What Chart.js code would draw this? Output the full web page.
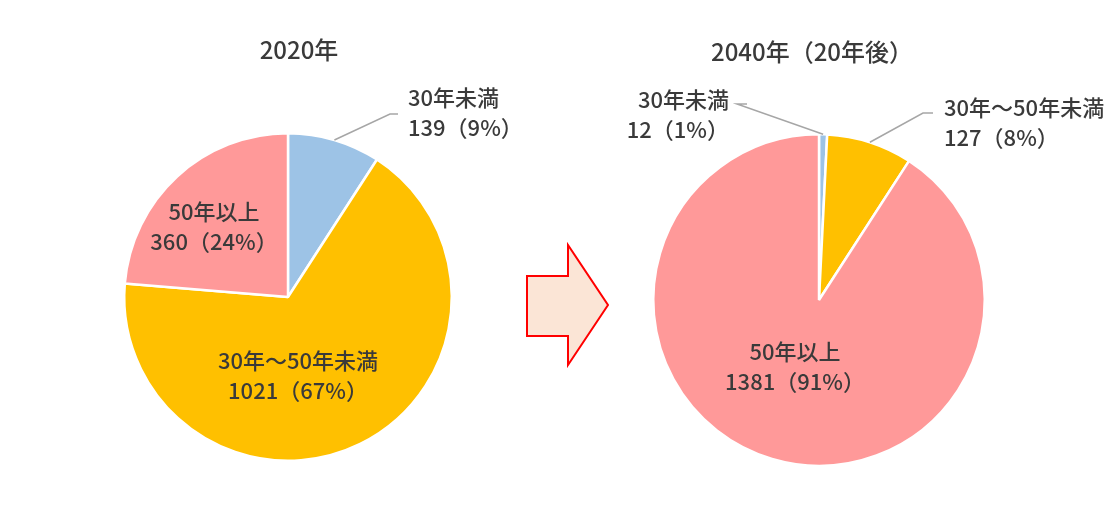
<!DOCTYPE html>
<html lang="ja">
<head>
<meta charset="utf-8">
<script src="https://cdn.jsdelivr.net/npm/chart.js@4/dist/chart.umd.min.js"></script>
<style>
  html, body { margin: 0; padding: 0; background: #fff; }
  #wrap { position: relative; width: 1112px; height: 515px; overflow: hidden; }
  #wrap canvas { position: absolute; top: 0; }
  #arrow { position: absolute; left: 0; top: 0; }
</style>
</head>
<body>
<div id="wrap">
  <canvas id="pie2020" width="556" height="515" style="left:0"></canvas>
  <canvas id="pie2040" width="556" height="515" style="left:556px"></canvas>
  <svg id="arrow" width="1112" height="515">
    <polygon points="527,276 568,276 568,245 608,305 568,365 568,336 527,336"
      fill="#FBE5D6" stroke="#FF0000" stroke-width="2" stroke-linejoin="miter"/>
  </svg>
</div>
<script>
const categories = ["30年未満", "30年～50年未満", "50年以上"];
const values2020 = [139, 1021, 360];
const values2040 = [12, 127, 1381];
const titles = ["2020年", "2040年（20年後）"];
const sliceColors = ["#9DC3E6", "#FFC000", "#FF9999"];

const FONT = '"Noto Sans CJK JP", "Noto Sans", sans-serif';
const TEXT = "#3A3A3A";

// label placement, relative to pie centre (layout only, no data)
const layout2020 = [
  { out: true, dx: 120, dy: -184, align: "left", elbow: [[102, -183], [110, -183]] },
  { dx: 10, dy: 79 },
  { dx: -74, dy: -70 },
];
const layout2040 = [
  { out: true, dx: -90, dy: -185, align: "right", elbow: [[-82, -196], [-72, -196]] },
  { out: true, dx: 125, dy: -177, align: "left", elbow: [[104, -187], [114, -187]] },
  { dx: -24, dy: 67 },
];

//draws title + slice labels with leader lines
const labelPlugin = {
  id: "sliceLabels",
  afterDraw(chart, args, opts) {
    const ctx = chart.ctx;
    const arcs = chart.getDatasetMeta(0).data;
    const values = chart.data.datasets[0].data;
    const total = values.reduce((a, b) => a + b, 0);

    ctx.save();
    ctx.fillStyle = TEXT;
    ctx.textBaseline = "middle";
    ctx.font = "500 24px " + FONT;
    ctx.textAlign = "center";
    ctx.fillText(opts.title, opts.titleX, opts.titleY);

    ctx.font = "500 22px " + FONT;
    arcs.forEach((arc, i) => {
      const lay = opts.layout[i];
      const cx = arc.x, cy = arc.y;
      const pct = Math.round((values[i] / total) * 100);
      const lines = [chart.data.labels[i], values[i] + "（" + pct + "%）"];
      const tx = cx + lay.dx, ty = cy + lay.dy;

      if (lay.out) {
        const mid = (arc.startAngle + arc.endAngle) / 2;
        ctx.beginPath();
        ctx.strokeStyle = "#A6A6A6";
        ctx.lineWidth = 1.5;
        ctx.moveTo(cx + arc.outerRadius * Math.cos(mid), cy + arc.outerRadius * Math.sin(mid));
        lay.elbow.forEach((p) => ctx.lineTo(cx + p[0], cy + p[1]));
        ctx.stroke();
      }
      ctx.textAlign = lay.align || "center";
      ctx.fillStyle = TEXT;
      ctx.fillText(lines[0], tx, ty - 15);
      ctx.fillText(lines[1], tx, ty + 15);
    });
    ctx.restore();
  },
};

function makePie(id, values, pad, layout, title, titleX, titleY) {
  return new Chart(document.getElementById(id), {
    type: "pie",
    data: {
      labels: categories,
      datasets: [
        {
          data: values,
          backgroundColor: sliceColors,
          borderColor: "#ffffff",
          borderWidth: 2.5,
        },
      ],
    },
    options: {
      responsive: false,
      animation: false,
      layout: { padding: pad },
      plugins: {
        legend: { display: false },
        tooltip: { enabled: false },
        sliceLabels: { layout: layout, title: title, titleX: titleX, titleY: titleY },
      },
    },
    plugins: [labelPlugin],
  });
}

makePie("pie2020", values2020, { left: 123, right: 103, top: 132, bottom: 53 }, layout2020, titles[0], 299, 50);
makePie("pie2040", values2040, { left: 96, right: 126, top: 133, bottom: 48 }, layout2040, titles[1], 256, 52);
</script>
</body>
</html>
